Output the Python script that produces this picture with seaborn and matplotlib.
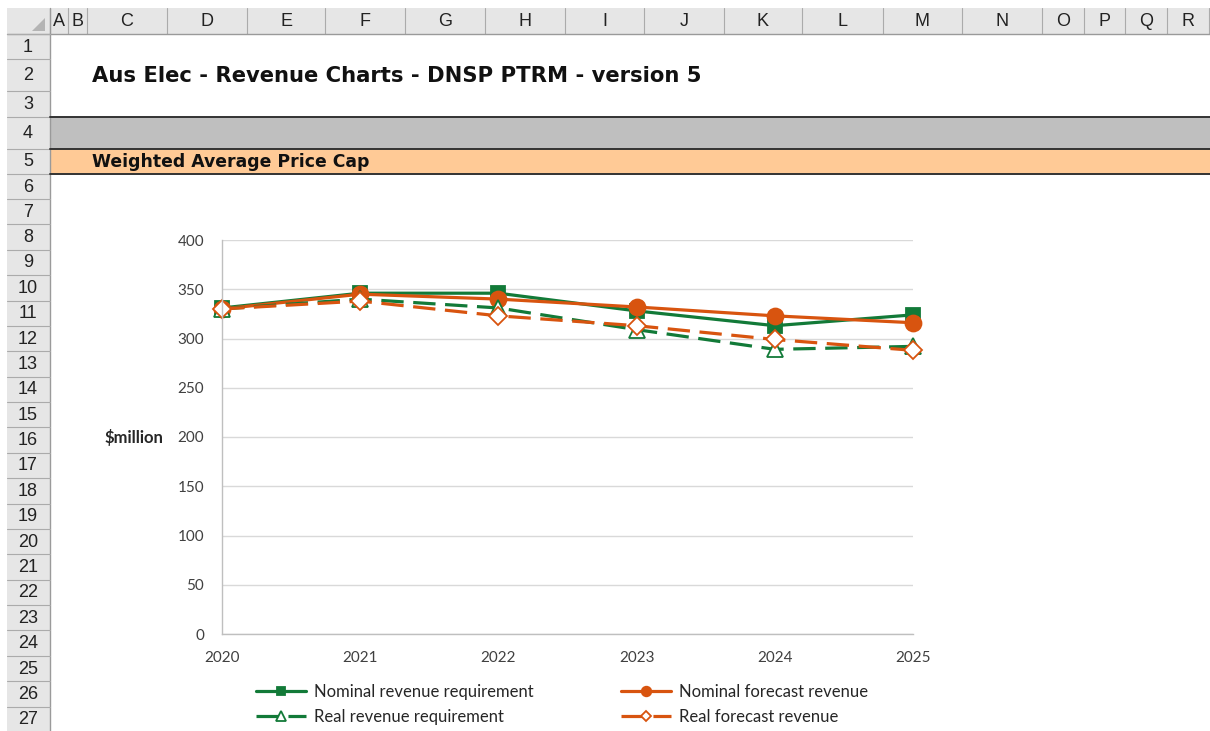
import matplotlib
matplotlib.use('Agg')
import matplotlib.pyplot as plt
import seaborn as sns
from matplotlib.patches import Rectangle, Polygon

# chart data
years = [2020, 2021, 2022, 2023, 2024, 2025]
nominal_req = [331, 346, 346, 328, 313, 324]
nominal_fc = [330, 345, 340, 332, 323, 316]
real_req = [330, 340, 331, 309, 289, 292]
real_fc = [330, 338, 323, 313, 299, 288]
series_names = ['Nominal revenue requirement', 'Nominal forecast revenue',
                'Real revenue requirement', 'Real forecast revenue']
y_ticks = [0, 50, 100, 150, 200, 250, 300, 350, 400]

# sheet text
col_letters = list('ABCDEFGHIJKLMNOPQR')
row_numbers = list(range(1, 28))
title = 'Aus Elec - Revenue Charts - DNSP PTRM - version 5'
section = 'Weighted Average Price Cap'

W, H = 1210, 731
col_edges = [50, 68, 87, 167, 247, 325, 405, 485, 565, 644, 724, 802, 883,
             962, 1042, 1084, 1125, 1167, 1209]
row_edges = [34, 59, 91, 117, 149, 174, 199] + [199 + 25.38 * i for i in range(1, 22)]

sns.set_style('white')
plt.rcParams['font.family'] = ['Liberation Sans', 'DejaVu Sans']

fig = plt.figure(figsize=(W / 100, H / 100), dpi=100)

# spreadsheet background
bg = fig.add_axes([0, 0, 1, 1], zorder=-1)
bg.set_xlim(0, W)
bg.set_ylim(H, 0)
bg.axis('off')

hdr = '#e6e6e6'
sep = '#ababab'
bg.add_patch(Rectangle((7, 8), W - 7, 26, fc=hdr, ec='none'))
bg.add_patch(Rectangle((7, 34), 43, H - 34, fc=hdr, ec='none'))
bg.add_patch(Polygon([(45, 18), (45, 31), (32, 31)], closed=True, fc='#b4b4b4', ec='none'))
for x in col_edges:
    bg.plot([x, x], [8, 34], color=sep, lw=0.8)
for i, letter in enumerate(col_letters):
    xc = (col_edges[i] + col_edges[i + 1]) / 2
    bg.text(xc, 22, letter, ha='center', va='center', fontsize=13, color='#222222')
bg.plot([7, W], [34, 34], color='#9a9a9a', lw=1)
bg.plot([50, 50], [8, H], color='#9a9a9a', lw=1)
for y in row_edges:
    bg.plot([7, 50], [y, y], color=sep, lw=0.8)
for i, n in enumerate(row_numbers):
    yc = (row_edges[i] + row_edges[i + 1]) / 2
    bg.text(28, yc + 0.5, str(n), ha='center', va='center', fontsize=13, color='#222222')

bg.text(92, 76, title, ha='left', va='center', fontsize=15.2, fontweight='bold',
        family=['DejaVu Sans'], color='#111111')
bg.add_patch(Rectangle((50, 117), W - 50, 32, fc='#bfbfbf', ec='none'))
bg.add_patch(Rectangle((50, 149), W - 50, 25, fc='#ffca96', ec='none'))
for y in [117, 149, 174]:
    bg.plot([50, W], [y, y], color='#333333', lw=1.4)
bg.text(92, 162, section, ha='left', va='center', fontsize=12.4, fontweight='bold',
        family=['DejaVu Sans'], color='#111111')

# the chart
ax = fig.add_axes([222 / W, 1 - 634 / H, 691 / W, 394 / H])
green = '#127a38'
orange = '#d8540f'
dash = (0, (7, 3))
styles = [
    (nominal_req, green, 's', green, '-', 10.5),
    (nominal_fc, orange, 'o', orange, '-', 11.5),
    (real_req, green, '^', 'white', dash, 12),
    (real_fc, orange, 'D', 'white', dash, 9),
]
lines = []
for name, (vals, c, m, fc, ls, ms) in zip(series_names, styles):
    sns.lineplot(x=years, y=vals, ax=ax, color=c, marker=m, markersize=ms,
                 markerfacecolor=fc, markeredgecolor=c, markeredgewidth=1.3,
                 linewidth=2.3, linestyle=ls, label=name, legend=False, clip_on=False)
    lines.append(ax.get_lines()[-1])

ax.set_xlim(2020, 2025)
ax.set_ylim(0, 400)
ax.set_xticks(years)
ax.set_yticks(y_ticks)
ax.set_xticklabels([str(y) for y in years])
ax.grid(axis='y', color='#d9d9d9', lw=1)
ax.grid(axis='x', visible=False)
for s in ['top', 'right']:
    ax.spines[s].set_visible(False)
for s in ['left', 'bottom']:
    ax.spines[s].set_color('#bfbfbf')
    ax.spines[s].set_linewidth(1)
ax.tick_params(axis='y', direction='out', length=7, color='#bfbfbf', width=1,
               labelsize=11, labelcolor='#404040', pad=6)
ax.tick_params(axis='x', direction='inout', length=9, color='#bfbfbf', width=1,
               labelsize=11, labelcolor='#404040', pad=8)
for lab in ax.get_xticklabels() + ax.get_yticklabels():
    lab.set_family(['Lato', 'DejaVu Sans'])
ax.set_xlabel('')
ax.set_ylabel('\\$million', rotation=0, fontsize=12, fontweight='bold',
              family=['Lato', 'DejaVu Sans'], color='#262626', ha='center', va='center')
ax.yaxis.set_label_coords((134 - 222) / 691, (634 - 438) / 394)

order = [0, 2, 1, 3]
leg = fig.legend([lines[i] for i in order], [series_names[i] for i in order],
                 ncol=2, loc='upper left', bbox_to_anchor=(241 / W, 1 - 669 / H),
                 frameon=False, handlelength=3.0, handletextpad=0.5,
                 columnspacing=5.2, labelspacing=0.55, markerscale=0.6,
                 prop={'family': ['Lato', 'DejaVu Sans'], 'size': 12})
for t in leg.get_texts():
    t.set_color('#262626')

fig.savefig('out.png', dpi=100)
